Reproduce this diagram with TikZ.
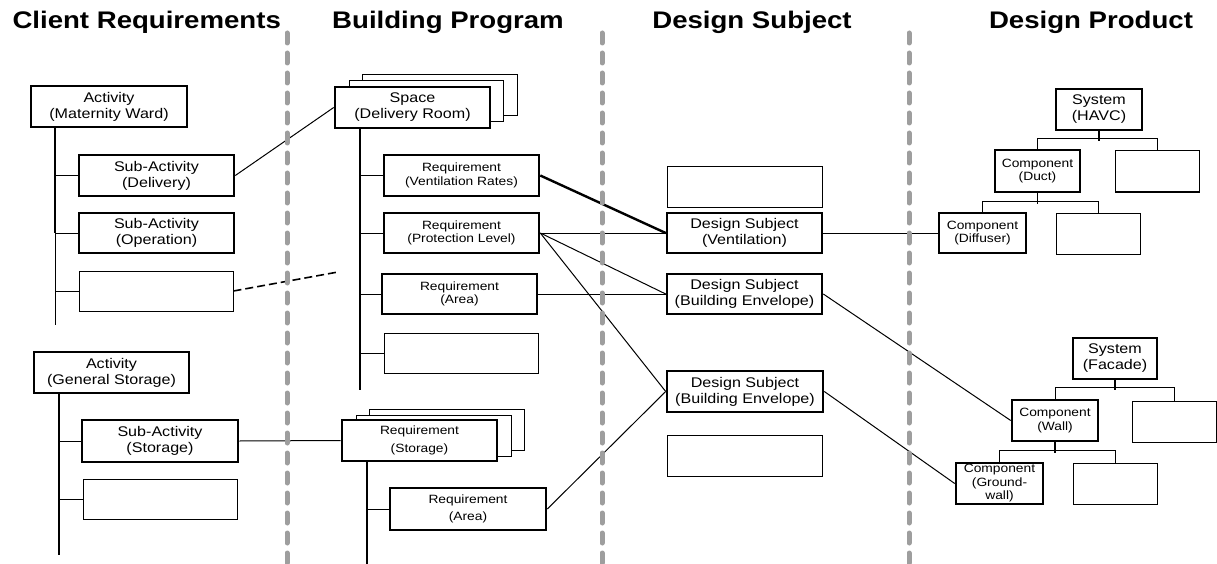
\documentclass[tikz,border=0pt]{standalone}
\usepackage{fontspec}
\setmainfont{Liberation Sans}[FakeStretch=1.15]
\begin{document}
\begin{tikzpicture}[x=1pt,y=-1pt,
  box/.style={draw, line width=2.6pt, fill=white, inner sep=0pt, align=center},
  ebox/.style={draw, line width=1pt, fill=white, inner sep=0pt},
  shadowbox/.style={draw, line width=1pt, fill=white},
  wh/.style 2 args={minimum width=#1pt, minimum height=#2pt},
  big/.style={font=\fontsize{14}{16}\selectfont},
  small/.style={font=\fontsize{12}{13.5}\selectfont},
  smallwide/.style={font=\fontsize{12}{17.5}\selectfont},
  head/.style={font=\fontsize{24}{26}\selectfont\bfseries, anchor=base},
  sep/.style={draw=black!38, line width=5pt, line cap=round, dash pattern=on 10pt off 10pt},
  trunk/.style={line width=1.6pt},
  conn/.style={line width=1pt},
  tconn/.style={line width=2.4pt},
]
\useasboundingbox (0,0) rectangle (1217,564);

% headers
\node[head] (h1) at (146.7,28.5) {Client Requirements};
\node[head] (h2) at (448,28.5) {Building Program};
\node[head] (h3) at (752,28.5) {Design Subject};
\node[head] (h4) at (1091,28.5) {Design Product};

% shadows of stacked boxes (drawn first)
\coordinate (spc) at (412.5,107.5);
\coordinate (rsc) at (419.5,440.5);
\draw[shadowbox] (362.5,75) rectangle (517,116);
\draw[shadowbox] (349,81) rectangle (503.5,122);
\draw[shadowbox] (369.5,409) rectangle (524.5,450);
\draw[shadowbox] (356,415) rectangle (511,456);

% column 1
\node[box,big,wh={156}{41}] (A1) at (109,106.5) {Activity\\(Maternity Ward)};
\node[box,big,wh={155}{41}] (SA1) at (156.5,175.5) {Sub-Activity\\(Delivery)};
\node[box,big,wh={155}{40}] (SA2) at (156.5,233) {Sub-Activity\\(Operation)};
\node[ebox,wh={154}{40}] (E1) at (156,291) {};
\node[box,big,wh={155}{41}] (A2) at (111.5,372.5) {Activity\\(General Storage)};
\node[box,big,wh={156}{42}] (SA3) at (160,441) {Sub-Activity\\(Storage)};
\node[ebox,wh={154}{40}] (E2) at (160,499) {};

\coordinate (t1a) at (55,127);
\coordinate (t1b) at (55,233);
\coordinate (t1c) at (55,325);
\draw[trunk] (t1a) -- (t1b);
\draw[conn] (t1b) -- (t1c);
\draw[conn] (SA1.west) -- (SA1.west -| t1a);
\draw[conn] (SA2.west) -- (SA2.west -| t1a);
\draw[conn] (E1.west) -- (E1.west -| t1a);

\coordinate (t2a) at (59,393);
\coordinate (t2b) at (59,555);
\draw[trunk] (t2a) -- (t2b);
\draw[conn] (SA3.west) -- (SA3.west -| t2a);
\draw[conn] (E2.west) -- (E2.west -| t2a);

% column 2
\node[box,big,wh={155}{41}] (SP) at (spc) {Space\\(Delivery Room)};
\node[box,small,wh={155}{41}] (R1) at (461.5,175.5) {Requirement\\(Ventilation Rates)};
\node[box,small,wh={155}{40}] (R2) at (461.5,233) {Requirement\\(Protection Level)};
\node[box,small,wh={155}{40}] (R3) at (459.5,294) {Requirement\\(Area)};
\node[ebox,wh={154}{40}] (E3) at (461,353) {};
\node[box,smallwide,wh={155}{41}] (RS) at (rsc) {Requirement\\(Storage)};
\node[box,smallwide,wh={156}{42}] (R4) at (468,509) {Requirement\\(Area)};

\coordinate (t3a) at (360,128);
\coordinate (t3b) at (360,390);
\draw[trunk] (t3a) -- (t3b);
\draw[conn] (R1.west) -- (R1.west -| t3a);
\draw[conn] (R2.west) -- (R2.west -| t3a);
\draw[conn] (R3.west) -- (R3.west -| t3a);
\draw[conn] (E3.west) -- (E3.west -| t3a);

\coordinate (t4a) at (367,461);
\coordinate (t4b) at (367,564);
\draw[trunk] (t4a) -- (t4b);
\draw[conn] (R4.west) -- (R4.west -| t4a);

% column 3
\node[ebox,wh={155}{40}] (E4) at (744.5,187) {};
\node[box,big,wh={155}{40}] (DS1) at (744.5,233) {Design Subject\\(Ventilation)};
\node[box,big,wh={155}{40}] (DS2) at (744.5,294) {Design Subject\\(Building Envelope)};
\node[box,big,wh={156}{41}] (DS3) at (745,391.5) {Design Subject\\(Building Envelope)};
\node[ebox,wh={155}{41}] (E5) at (744.5,455.5) {};

% column 4
\node[box,big,wh={86}{41}] (SYS1) at (1099,109.5) {System\\(HAVC)};
\node[box,small,wh={85}{42}] (C1) at (1037.5,171) {Component\\(Duct)};
\node[ebox,wh={84}{41}] (E6) at (1157,171.5) {};
\node[box,small,wh={87}{40}] (C2) at (982.5,233) {Component\\(Diffuser)};
\node[ebox,wh={84}{41}] (E7) at (1098,233.5) {};
\node[box,big,wh={84}{41}] (SYS2) at (1115,358.5) {System\\(Facade)};
\node[box,small,wh={86}{41}] (C3) at (1055,420.5) {Component\\(Wall)};
\node[ebox,wh={84}{41}] (E8) at (1174,421.5) {};
\node[box,small,wh={87}{41}] (C4) at (999.5,483.5) {Component\\(Ground-\\wall)};
\node[ebox,wh={84}{41}] (E9) at (1115,483.5) {};

% tree connectors column 4
\draw[trunk] (SYS1.south) -- ++(0,10);
\draw[conn] (C1.north) -- ++(0,-10) -| (E6.north);
\draw[trunk] (C1.south) -- ++(0,11);
\draw[conn] (C2.north) -- ++(0,-10) -| (E7.north);
\draw[trunk] (SYS2.south) -- ++(0,10);
\draw[conn] (C3.north) -- ++(0,-11) -| (E8.north);
\draw[trunk] (C3.south) -- ++(0,11);
\draw[conn] (C4.north) -- ++(0,-11) -| (E9.north);

% cross connectors
\coordinate (dashend) at (338,272);
\draw[conn] (SA1.east) -- (SP.west);
\draw[line width=1.6pt, dash pattern=on 8pt off 4pt] (E1.east) -- (dashend);
\draw[conn] (SA3.east) -- (RS.west);
\draw[tconn] (R1.east) -- (DS1.west);
\draw[conn] (R2.east) -- (DS1.west);
\draw[conn] (R2.east) -- (DS2.west);
\draw[conn] (R2.east) -- (DS3.west);
\draw[conn] (R3.east) -- (DS2.west);
\draw[conn] (R4.east) -- (DS3.west);
\draw[conn] (DS1.east) -- (C2.west);
\draw[conn] (DS2.east) -- (C3.west);
\draw[conn] (DS3.east) -- (C4.west);

% separators
\coordinate (s1a) at (287,33); \coordinate (s1b) at (287,564);
\coordinate (s2a) at (602,33); \coordinate (s2b) at (602,564);
\coordinate (s3a) at (909,33); \coordinate (s3b) at (909,564);
\draw[sep] (s1a) -- (s1b);
\draw[sep] (s2a) -- (s2b);
\draw[sep] (s3a) -- (s3b);
\end{tikzpicture}
\end{document}
